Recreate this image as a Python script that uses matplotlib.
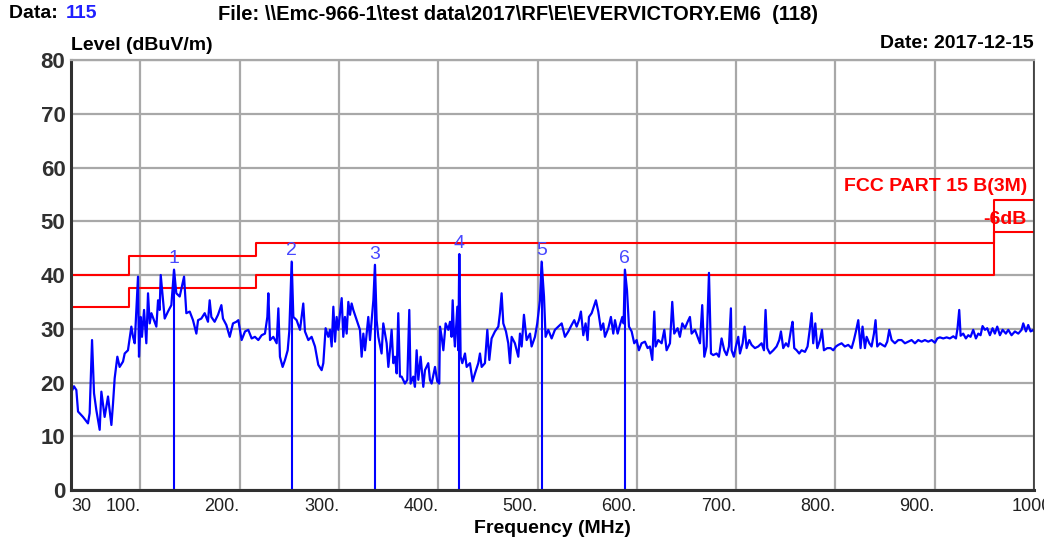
import matplotlib
matplotlib.use('Agg')
import matplotlib.pyplot as plt

plt.rcParams['font.family'] = ['Liberation Sans', 'DejaVu Sans']

freq_mhz = [
    30, 30.4, 33, 35.4, 37.1, 42.1, 47.1, 48.8, 51.2, 53.2, 55.5, 58.9, 60.6, 63.9, 67.3, 70.7,
    72.3, 74, 76.7, 79, 82.4, 84.1, 87.4, 90.8, 92.5, 94.2, 95.8, 97.5, 98.5, 100.2, 101.5,
    103.6, 105.9, 107.6, 109.3, 111, 113.6, 116, 117.7, 119.3, 120.4, 122.7, 124.4, 127.7,
    131.1, 133.8, 136.1, 139.5, 143.9, 146.2, 149.6, 152.9, 156.3, 158, 161.3, 164.7, 168,
    169.7, 171.4, 174.7, 178.1, 181.5, 183.1, 186.5, 189.9, 193.2, 196.6,
    198.6, 201.9, 205.3, 208.6, 212, 215.3, 218.7, 222.1, 225.4, 227.8, 228.8, 230.5, 233.8,
    237.2, 238.9, 240.5, 243.2, 245.6, 248.3, 249.9, 252.3, 254, 257.3, 260.7, 264, 265.7,
    269.1, 272.4, 275.8, 279.1, 282.5, 284.2, 286.5, 289.2, 290.9, 292.6, 294.3, 296, 297.6,
    299.3, 301, 302.7, 304.3, 306, 307.7, 309.4, 311.1, 312.7, 314.4, 317.8, 321.1, 322.8,
    324.5, 326.2, 329.5, 331.2, 332.9, 334.6, 336.2, 337.9, 339.6, 342.9, 344.6, 348, 349.7,
    351.3, 353, 354.7, 356.4, 358.1, 359.7, 361.4,
    363.1, 366.4, 368.8, 370.8, 372.1, 374.8, 376.5, 378.2, 379.9, 382.2, 384.9, 386.6,
    389.9, 391.6, 393.3, 396.7, 399, 401, 401.7, 403.4, 405.1, 407.4, 410.1, 411.8, 413.4,
    414.5, 415.8, 416.8, 419.2, 420.2, 421.2, 422.5, 424.2, 426.9, 428.6, 431.9, 434.6, 437,
    440.3, 442, 443.7, 447, 449.4, 451.4, 453.7, 457.1, 460.5, 462.1, 463.8, 465.5, 468.2,
    470.5, 472.2, 473.9, 477.2, 480.6, 482.3, 484, 486.3, 489, 492.4, 494, 497.4, 499.7,
    502.4, 504.1, 506.5, 508.1, 510.8, 514.2, 517.5, 520.9, 524.3, 527.6,
    531, 534.3, 537, 539.4, 541.7, 543.7, 546.1, 548.4, 550.4, 551.8, 554.5, 557.2, 558.8,
    561.2, 563.9, 566.2, 567.9, 571.3, 573.9, 576.3, 578, 580.7, 583, 585.4, 586.7, 588,
    590.1, 592.1, 594.8, 597.4, 599.8, 602.1, 604.8, 608.2, 610.9, 613.2, 615.6, 617.6,
    618.9, 621.6, 625, 627.7, 630, 633.4, 635.7, 637.7, 641.1, 643.4, 645.8, 648.5, 651.2,
    653.5, 655.2, 658.6, 661.2, 663.6, 665.9, 668, 670.3, 672.7, 674.7, 677, 680.4, 682.7,
    685.4, 688.1, 690.5, 692.8, 694.8,
    695.5, 697.8, 699.8, 702.2, 703.9, 706.6, 708.6, 710.6, 713.3, 715.6, 719, 722.3, 725.7,
    728.1, 729.7, 731.4, 734.1, 737.5, 740.8, 743.5, 745.2, 747.5, 750.2, 752.6, 755.3,
    756.9, 758.6, 761, 763.6, 766, 769.4, 772, 774.4, 776.1, 777.7, 779.8, 781.8, 784.5,
    786.5, 788.5, 791.9, 795.2, 797.9, 800.6, 803, 806.3, 809.6, 813, 816.4, 818.7, 820.7,
    823.1, 825.4, 827.4, 829.8, 831.5, 834.2, 836.5, 838.9, 840.5, 842.2, 844.9, 847.3, 850,
    852.3, 854.3, 856.7, 860, 863.4,
    866.7, 870.1, 873.4, 876.8, 880.2, 883.5, 886.9, 890.2, 893.6, 897, 900.3, 902.7, 905.3,
    908.7, 912.1, 915.4, 918.8, 921.5, 923.1, 924.8, 926.2, 928.8, 931.5, 933.9, 936.2,
    938.9, 941.6, 944, 946.3, 948.3, 950.7, 953, 955.7, 958.4, 960.7, 963.1, 965.8, 968.5,
    971.8, 974.2, 977.5, 980.9, 984.3, 987.6, 989.3, 992, 994.3, 996.7, 999.4, 1000,
]
level_db = [
    19, 18.2, 19.3, 18.6, 14.6, 13.6, 12.4, 14.3, 27.9, 18, 14.9, 11.2, 18.3, 13.6, 17.4, 12.1,
    16, 20.8, 24.8, 22.9, 23.9, 25.4, 26, 30.4, 28.5, 27.3, 33.5, 39.7, 24.8, 32.2, 28.5,
    33.5, 27.3, 36.6, 31, 32.9, 31.6, 30.4, 35.3, 33.5, 40, 35.3, 31.9, 33.2,
    34.4, 41, 36.6, 36, 39.7, 32.9, 33.2, 31.6, 29.1, 31.6, 31.9, 32.9, 31.3,
    35.3, 32.2, 31.3, 32.6, 34.4, 31.9, 30.7, 28.5, 31, 31.3,
    31.6, 27.9, 29.5, 29.8, 28.2, 28.5, 27.9, 28.8, 29.1, 32.2, 36.6, 27.9, 28.5,
    27.3, 33.8, 24.8, 22.9, 24.2, 26, 29.5, 42.5, 32.2, 31.6, 29.8, 34.7, 29.5,
    27.9, 28.5, 26.7, 23.3, 22.3, 23.6, 30.1, 28.5, 29.8, 26.7, 34.1, 27.6, 32.2,
    29.8, 32.9, 35.7, 28.5, 32.2, 29.1, 35, 32.6, 34.7, 33.5, 31.6, 29.8, 24.8,
    29.1, 26, 32.2, 27.9, 31.6, 35.3, 41.9, 31.6, 28.5, 25.4, 31, 27.3, 22.9,
    26, 29.8, 23.6, 24.8, 21.7, 32.9, 21.1,
    21.1, 19.8, 20.5, 33.5, 19.8, 21.1, 19.2, 26, 20.5, 24.8, 19.2, 22.3,
    23.6, 20.5, 19.8, 22.9, 20.2, 19.8, 30.4, 28.5, 26, 31, 29.8, 31.3, 28.5,
    35.3, 29.1, 26.7, 34.1, 26, 43.9, 24.8, 23.6, 25.4, 22.9, 23.6, 20.2, 21.7,
    23.6, 25.4, 22.9, 23.6, 29.8, 24.2, 28.2, 29.5, 30.4, 32.9, 36.6, 31, 29.5,
    27.3, 23.6, 28.5, 27.3, 24.8, 29.1, 26.7, 32.6, 27.9, 29.1, 26.7, 28.5, 31,
    35.3, 42.5, 36, 28.5, 29.8, 28.2, 29.8, 30.4, 31, 28.5,
    29.5, 30.7, 31.6, 30.4, 31.6, 33.2, 28.8, 31, 27.9, 32.2, 32.9, 34.4, 35.3,
    33.2, 29.8, 31, 28.5, 30.1, 32.2, 29.1, 31.6, 29.1, 30.7, 32.2, 31, 41,
    37.2, 30.4, 29.5, 27.3, 27.9, 26, 27.3, 27.6, 26.4, 26.7, 24.2, 33.2,
    26.7, 27.9, 27.3, 29.8, 26, 27.3, 35, 29.1, 30.1, 28.5, 31, 30.1, 31.3,
    32.2, 29.1, 29.8, 28.5, 27.3, 34.4, 24.8, 26.7, 40.4, 25.4, 25.1, 25.4, 24.8,
    28.2, 26, 25.1, 26.7, 33.8,
    26, 24.8, 26.7, 28.5, 25.4, 27.3, 30.4, 26.4, 27.9, 27, 26.4, 26.7, 27.3,
    26, 33.5, 26.4, 25.4, 26, 26.7, 27.9, 29.5, 26.4, 27.3, 26.7, 29.8,
    31.3, 26.4, 26, 25.4, 26, 25.7, 26.7, 30.1, 32.9, 27.3, 31, 26.4, 27.9,
    29.8, 26, 26.4, 26.4, 26, 26.7, 27, 27.3, 26.7, 27, 26.4, 27.9, 29.5,
    31.6, 26.4, 30.4, 26.4, 28.5, 27.3, 26.7, 29.1, 31.6, 26.7, 27.3, 27, 26.7,
    27.6, 29.8, 27.9, 27.3, 27.9,
    27.9, 27.3, 27.6, 27.9, 27.3, 27.9, 27.6, 27.9, 27.6, 27.9, 27.4, 28.2, 28.4,
    28.2, 28.4, 28.2, 28.6, 28.2, 30.1, 33.5, 28.7, 29.1, 28.2, 28.8, 28.5,
    29.8, 28.2, 29.1, 28.8, 30.5, 29.8, 30.1, 28.8, 30.1, 29.1, 30.4, 28.8, 29.8,
    29.1, 29.8, 28.8, 29.5, 29.1, 29.8, 31, 29.5, 30.7, 29.5, 29.8, 29.6,
]

# Limit lines (FCC Part 15 B, 3 m) and the -6 dB margin
limit_freq = [30, 88, 216, 960, 1000]
limit_level = [40, 43.5, 46, 54, 54]
margin_level = [34, 37.5, 40, 48, 48]

# Marked peaks
marker_id = ['1', '2', '3', '4', '5', '6']
marker_freq = [133.8, 252.3, 336.2, 421.2, 504.1, 588.0]
marker_level = [41.0, 42.5, 41.9, 43.9, 42.5, 41.0]

xtick_vals = [30, 100, 200, 300, 400, 500, 600, 700, 800, 900, 1000]
xtick_text = ['30', '100.', '200.', '300.', '400.', '500.', '600.', '700.', '800.', '900.', '1000.']

fig = plt.figure(figsize=(10.44, 5.42), dpi=100)
ax = fig.add_axes([0.068, 0.0959, 0.9223, 0.7934])

ax.grid(True, color='#a8a8a8', linewidth=1.6)
ax.set_axisbelow(True)

ax.step(limit_freq, limit_level, where='post', color='#ff0000', linewidth=1.5)
ax.step(limit_freq, margin_level, where='post', color='#ff0000', linewidth=1.5)

ax.plot(freq_mhz, level_db, color='#0000ff', linewidth=1.6)

ax.vlines(marker_freq, 0, marker_level, color='#0000ff', linewidth=1.5)
for m, f, l in zip(marker_id, marker_freq, marker_level):
    ax.text(f, l + 0.4, m, ha='center', va='bottom', color='#4848ff', fontsize=14)

ax.text(993, 56.4, 'FCC PART 15 B(3M)', ha='right', va='center', color='#ff0000',
        fontsize=14, fontweight='bold')
ax.text(993, 50.4, '-6dB', ha='right', va='center', color='#ff0000',
        fontsize=14, fontweight='bold')

ax.set_xlim(30, 1000)
ax.set_ylim(0, 80)
ax.set_xticks(xtick_vals)
ax.set_xticklabels(xtick_text)
ax.set_yticks(range(0, 90, 10))
ax.tick_params(axis='y', length=0, pad=4)
ax.tick_params(axis='x', length=0, pad=6)
for t in ax.get_yticklabels():
    t.set_fontsize(16)
    t.set_fontweight('bold')
    t.set_color('#303030')
for t in ax.get_xticklabels():
    t.set_fontsize(13)
    t.set_color('#202020')
    t.set_horizontalalignment('right')
xlabels = ax.get_xticklabels()
xlabels[0].set_horizontalalignment('left')
xlabels[-1].set_horizontalalignment('center')

ax.spines['left'].set_linewidth(2.2)
ax.spines['bottom'].set_linewidth(2.2)
ax.spines['left'].set_color('#303030')
ax.spines['bottom'].set_color('#303030')
ax.spines['top'].set_color('#a8a8a8')
ax.spines['top'].set_linewidth(1.6)
ax.spines['right'].set_color('#303030')
ax.spines['right'].set_linewidth(1.2)

ax.set_xlabel('Frequency (MHz)', fontsize=14, fontweight='bold', labelpad=3)

fig.text(0.068, 1 - 46 / 542, 'Level (dBuV/m)', ha='left', va='center', fontsize=14, fontweight='bold')
fig.text(0.990, 1 - 44 / 542, 'Date: 2017-12-15', ha='right', va='center', fontsize=14, fontweight='bold')
fig.text(0.009, 1 - 14 / 542, 'Data: ', ha='left', va='center', fontsize=14, fontweight='bold')
fig.text(0.063, 1 - 14 / 542, '115', ha='left', va='center', fontsize=14, fontweight='bold', color='#2020ff')
fig.text(0.209, 1 - 14 / 542, 'File: \\\\Emc-966-1\\test data\\2017\\RF\\E\\EVERVICTORY.EM6  (118)',
         ha='left', va='center', fontsize=14.5, fontweight='bold')

fig.savefig('out.png', dpi=100)
